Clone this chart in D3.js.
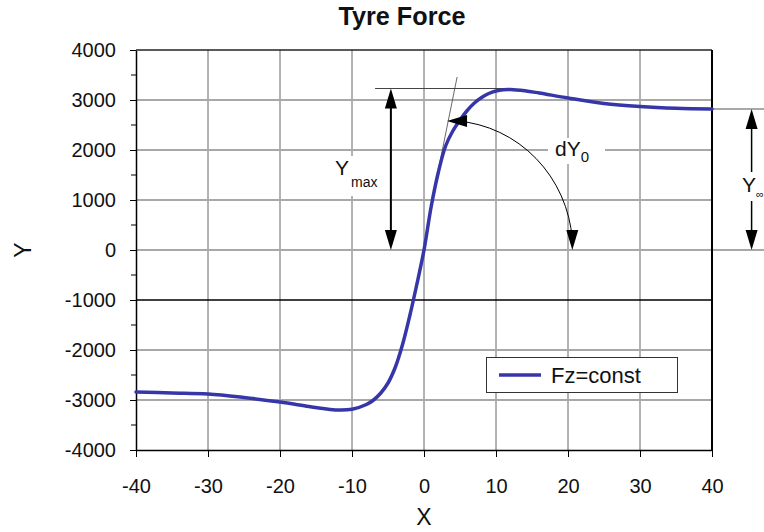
<!DOCTYPE html>
<html>
<head>
<meta charset="utf-8">
<script src="https://cdn.jsdelivr.net/npm/d3@7"></script>
<style>
  body { margin: 0; background: #fff; }
  text { font-family: "Liberation Sans", Arial, sans-serif; fill: #111; }
</style>
</head>
<body>
<div id="chart"></div>
<script>
// chart values
var chartTitle = "Tyre Force";
var xLabel = "X";
var yLabel = "Y";
var seriesName = "Fz=const";

var xTicks = [-40, -30, -20, -10, 0, 10, 20, 30, 40];
var yTicks = [-4000, -3000, -2000, -1000, 0, 1000, 2000, 3000, 4000];
var yMinorTicks = [-3500, -2500, -1500, -500, 500, 1500, 2500, 3500];

var slipX = [-40, -35, -30, -25, -20, -16, -14, -12, -10, -8, -7, -6, -5, -4, -3, -2, -1,
  0, 1, 2, 3, 4, 5, 6, 7, 8, 9, 10, 11, 12, 14, 16, 20, 25, 30, 35, 40];
var forceY = [-2840, -2860, -2880, -2950, -3040, -3130, -3170, -3200, -3185, -3090, -3000, -2860, -2660, -2350, -1900, -1330, -690,
  0, 870, 1560, 2080, 2380, 2600, 2790, 2940, 3050, 3130, 3180, 3205, 3210, 3185, 3140, 3040, 2930, 2870, 2835, 2820];

// annotation values (data units)
var yMaxLevel = 3230;
var yMaxArrowX = -4.6;
var yMaxLineX = [-6.8, 12.2];
var yInfLevel = 2820;
var yInfArrowX = 45.5;
var tangentX = [1.2, 4.6];
var tangentY = [1040, 3460];
var arcCenterX = 3.2;
var arcTopY = 2580;
var arcEndX = 20.6;

var svgWidth = 764;
var svgHeight = 532;

var svg = d3.select("#chart")
  .append("svg")
  .attr("width", svgWidth)
  .attr("height", svgHeight);

var xScale = d3.scaleLinear().domain([-40, 40]).range([136, 712]);
var yScale = d3.scaleLinear().domain([-4000, 4000]).range([450, 50]);

// title
svg.append("text")
  .attr("transform", "translate(402, 25) scale(0.97, 1)")
  .attr("text-anchor", "middle")
  .style("font-weight", "bold")
  .style("font-size", "26px")
  .text(chartTitle);

// grid lines
var grid = svg.append("g");

grid.selectAll(".vgrid")
  .data(xTicks.slice(1, -1))
  .enter()
  .append("line")
  .attr("x1", d => xScale(d))
  .attr("x2", d => xScale(d))
  .attr("y1", yScale(4000))
  .attr("y2", yScale(-4000))
  .attr("stroke", "#666")
  .attr("stroke-width", 1);

grid.selectAll(".hgrid")
  .data(yTicks.slice(1, -1))
  .enter()
  .append("line")
  .attr("x1", xScale(-40))
  .attr("x2", d => d === 0 ? svgWidth : xScale(40))
  .attr("y1", d => yScale(d))
  .attr("y2", d => yScale(d))
  .attr("stroke", d => d === -1000 ? "#000" : "#a8a8a8")
  .attr("stroke-width", d => d === -1000 ? 1.5 : 2);

// Y-infinity level line sticking out on the right
grid.append("line")
  .attr("x1", xScale(40))
  .attr("x2", svgWidth)
  .attr("y1", yScale(yInfLevel))
  .attr("y2", yScale(yInfLevel))
  .attr("stroke", "#a8a8a8")
  .attr("stroke-width", 2);

// axes
var bottomAxis = d3.axisBottom(xScale)
  .tickValues(xTicks)
  .tickFormat(d => String(d))
  .tickSize(7)
  .tickPadding(22)
  .tickSizeOuter(0);

var leftAxis = d3.axisLeft(yScale)
  .tickValues(yTicks)
  .tickFormat(d => String(d))
  .tickSize(6)
  .tickPadding(14)
  .tickSizeOuter(0);

var xAxisG = svg.append("g")
  .attr("transform", `translate(0, ${yScale(-4000)})`)
  .call(bottomAxis);

var yAxisG = svg.append("g")
  .attr("transform", `translate(${xScale(-40)}, 0)`)
  .call(leftAxis);

[xAxisG, yAxisG].forEach(function(g) {
  g.select(".domain").attr("stroke", "#000").attr("stroke-width", 1.5);
  g.selectAll(".tick line").attr("stroke", "#000");
  g.selectAll(".tick text")
    .style("font-size", "20px")
    .style("font-family", "'Liberation Sans', Arial, sans-serif")
    .attr("fill", "#111");
});

// minor ticks on the y axis
svg.append("g")
  .selectAll("line")
  .data(yMinorTicks)
  .enter()
  .append("line")
  .attr("x1", xScale(-40) - 5)
  .attr("x2", xScale(-40))
  .attr("y1", d => yScale(d))
  .attr("y2", d => yScale(d))
  .attr("stroke", "#000");

// frame top and right
svg.append("line")
  .attr("x1", xScale(-40)).attr("x2", xScale(40))
  .attr("y1", yScale(4000)).attr("y2", yScale(4000))
  .attr("stroke", "#222").attr("stroke-width", 1.5);
svg.append("line")
  .attr("x1", xScale(40)).attr("x2", xScale(40))
  .attr("y1", yScale(4000)).attr("y2", yScale(-4000))
  .attr("stroke", "#000").attr("stroke-width", 2);

// axis labels
svg.append("text")
  .attr("x", 424)
  .attr("y", 525)
  .attr("text-anchor", "middle")
  .style("font-size", "23px")
  .text(xLabel);

svg.append("text")
  .attr("transform", "translate(31, 250) rotate(-90)")
  .attr("text-anchor", "middle")
  .style("font-size", "23px")
  .text(yLabel);

// helper: filled arrow head, tip at (x, y), pointing in direction dir
function arrowHead(g, x, y, dir) {
  var len = 20, half = 6;
  var pts;
  if (dir === "up") pts = [[x, y], [x - half, y + len], [x + half, y + len]];
  if (dir === "down") pts = [[x, y], [x - half, y - len], [x + half, y - len]];
  if (dir === "left") pts = [[x, y], [x + len, y - half], [x + len, y + half]];
  g.append("path")
    .attr("d", "M" + pts.map(p => p.join(",")).join("L") + "Z")
    .attr("fill", "#000");
}

var ann = svg.append("g");

// Y max level line and double arrow
ann.append("line")
  .attr("x1", xScale(yMaxLineX[0])).attr("x2", xScale(yMaxLineX[1]))
  .attr("y1", yScale(yMaxLevel)).attr("y2", yScale(yMaxLevel))
  .attr("stroke", "#444").attr("stroke-width", 1.2);

// white patch behind Ymax label
ann.append("rect")
  .attr("x", 330).attr("y", 156)
  .attr("width", 52).attr("height", 40)
  .attr("fill", "#fff");

ann.append("line")
  .attr("x1", xScale(yMaxArrowX)).attr("x2", xScale(yMaxArrowX))
  .attr("y1", yScale(yMaxLevel) + 15).attr("y2", yScale(0) - 15)
  .attr("stroke", "#000").attr("stroke-width", 2);
arrowHead(ann, xScale(yMaxArrowX), yScale(yMaxLevel), "up");
arrowHead(ann, xScale(yMaxArrowX), yScale(0), "down");

var yMaxText = ann.append("text")
  .attr("x", 335)
  .attr("y", 175)
  .style("font-size", "21px");
yMaxText.append("tspan").text("Y");
yMaxText.append("tspan")
  .attr("dy", 12)
  .attr("dx", 2)
  .style("font-size", "14px")
  .text("max");

// tangent line at the origin
ann.append("line")
  .attr("x1", xScale(tangentX[0])).attr("x2", xScale(tangentX[1]))
  .attr("y1", yScale(tangentY[0])).attr("y2", yScale(tangentY[1]))
  .attr("stroke", "#444").attr("stroke-width", 0.8);

// Y infinity arrow with label gap
var infX = xScale(yInfArrowX);
ann.append("line")
  .attr("x1", infX).attr("x2", infX)
  .attr("y1", yScale(yInfLevel) + 15).attr("y2", 172)
  .attr("stroke", "#000").attr("stroke-width", 1.5);
ann.append("line")
  .attr("x1", infX).attr("x2", infX)
  .attr("y1", 201).attr("y2", yScale(0) - 15)
  .attr("stroke", "#000").attr("stroke-width", 1.5);
arrowHead(ann, infX, yScale(yInfLevel), "up");
arrowHead(ann, infX, yScale(0), "down");

ann.append("text")
  .attr("x", 742)
  .attr("y", 192)
  .style("font-size", "21px")
  .text("Y");
ann.append("text")
  .attr("x", 756)
  .attr("y", 198)
  .style("font-size", "11px")
  .text("\u221e");

// the fitted curve
var line = d3.line()
  .x((d, i) => xScale(slipX[i]))
  .y(d => yScale(d))
  .curve(d3.curveCatmullRom.alpha(0.5));

svg.append("path")
  .datum(forceY)
  .attr("d", line)
  .attr("fill", "none")
  .attr("stroke", "#3636a8")
  .attr("stroke-width", 3.5)
  .attr("stroke-linecap", "round");

// dY0 curved arrow (quarter ellipse round the origin)
var arcX0 = xScale(arcCenterX), arcY0 = yScale(arcTopY);
var arcX1 = xScale(arcEndX), arcY1 = yScale(0);
var rx = arcX1 - arcX0, ry = arcY1 - arcY0;

// white patch behind dY0 label on the 2000 grid line
ann.append("rect")
  .attr("x", 548).attr("y", 138)
  .attr("width", 57).attr("height", 26)
  .attr("fill", "#fff");

svg.append("path")
  .attr("d", `M${arcX0 + 10},${arcY0} A${rx},${ry} 0 0 1 ${arcX1},${arcY1 - 10}`)
  .attr("fill", "none")
  .attr("stroke", "#000")
  .attr("stroke-width", 1);
arrowHead(svg, arcX0, arcY0, "left");
arrowHead(svg, arcX1, arcY1, "down");

var dyText = svg.append("text")
  .attr("x", 555)
  .attr("y", 156)
  .style("font-size", "21px");
dyText.append("tspan").text("dY");
dyText.append("tspan")
  .attr("dy", 6)
  .style("font-size", "15px")
  .text("0");

// legend
var legend = svg.append("g");
legend.append("rect")
  .attr("x", 486.5).attr("y", 357.5)
  .attr("width", 191).attr("height", 35)
  .attr("fill", "#fff")
  .attr("stroke", "#333")
  .attr("stroke-width", 1);
legend.append("line")
  .attr("x1", 499).attr("x2", 541)
  .attr("y1", 375).attr("y2", 375)
  .attr("stroke", "#3636a8")
  .attr("stroke-width", 3.5);
legend.append("text")
  .attr("x", 551)
  .attr("y", 383)
  .style("font-size", "22px")
  .text(seriesName);
</script>
</body>
</html>
